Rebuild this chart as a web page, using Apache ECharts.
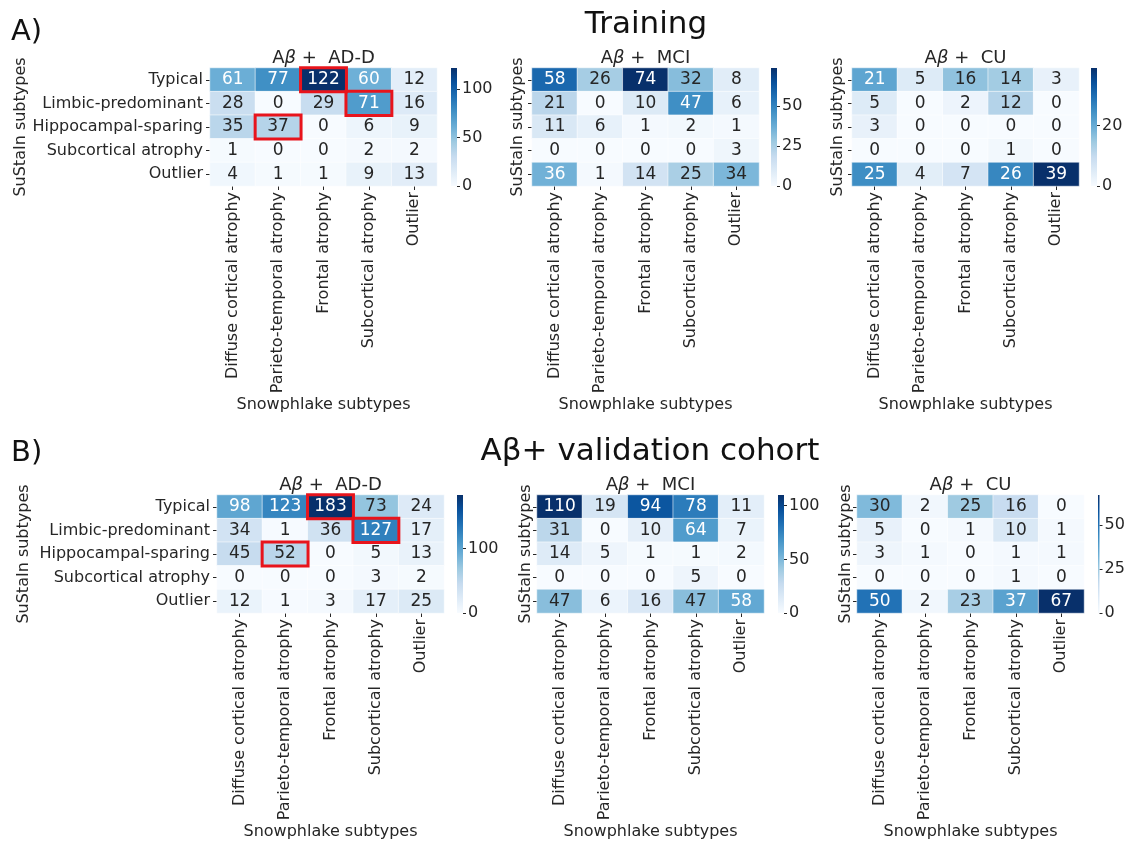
<!DOCTYPE html>
<html><head><meta charset="utf-8">
<script src="https://cdn.jsdelivr.net/npm/echarts@6/dist/echarts.min.js"></script>
<style>html,body{margin:0;padding:0;background:#fff}#c{width:1127px;height:842px}</style>
</head><body><div id="c"></div><script>
// ---------- data ----------
const rowLabels = ['Typical', 'Limbic-predominant', 'Hippocampal-sparing', 'Subcortical atrophy', 'Outlier'];
const colLabels = ['Diffuse cortical atrophy', 'Parieto-temporal atrophy', 'Frontal atrophy', 'Subcortical atrophy', 'Outlier'];

const trainADD = [[61, 77, 122, 60, 12], [28, 0, 29, 71, 16], [35, 37, 0, 6, 9], [1, 0, 0, 2, 2], [4, 1, 1, 9, 13]];
const trainMCI = [[58, 26, 74, 32, 8], [21, 0, 10, 47, 6], [11, 6, 1, 2, 1], [0, 0, 0, 0, 3], [36, 1, 14, 25, 34]];
const trainCU  = [[21, 5, 16, 14, 3], [5, 0, 2, 12, 0], [3, 0, 0, 0, 0], [0, 0, 0, 1, 0], [25, 4, 7, 26, 39]];
const valADD   = [[98, 123, 183, 73, 24], [34, 1, 36, 127, 17], [45, 52, 0, 5, 13], [0, 0, 0, 3, 2], [12, 1, 3, 17, 25]];
const valMCI   = [[110, 19, 94, 78, 11], [31, 0, 10, 64, 7], [14, 5, 1, 1, 2], [0, 0, 0, 5, 0], [47, 6, 16, 47, 58]];
const valCU    = [[30, 2, 25, 16, 0], [5, 0, 1, 10, 1], [3, 1, 0, 1, 1], [0, 0, 0, 1, 0], [50, 2, 23, 37, 67]];

const ticksTrainADD = [0, 50, 100];
const ticksTrainMCI = [0, 25, 50];
const ticksTrainCU  = [0, 20];
const ticksValADD   = [0, 100];
const ticksValMCI   = [0, 50, 100];
const ticksValCU    = [0, 25, 50];

// highlighted cells in AD-D panels: [row, col]
const highlightADD = [[0, 2], [1, 3], [2, 1]];

const subtitleCohorts = ['AD-D', 'MCI', 'CU'];
const sectionLabels = ['A)', 'B)'];
const sectionTitles = ['Training', 'A\u03b2+ validation cohort'];
const yName = 'SuStaIn subtypes';
const xName = 'Snowphlake subtypes';

// ---------- styling / layout ----------
const FONT = 'DejaVu Sans';
const TXT = '#262626';
const FS = 16;
const blues = ['#f7fbff', '#deebf7', '#c6dbef', '#9ecae1', '#6baed6', '#4292c6', '#2171b5', '#08519c', '#08306b'];

function hex2rgb(h) { return [1, 3, 5].map(i => parseInt(h.substr(i, 2), 16) / 255); }
function bluesAt(t) {
  t = Math.max(0, Math.min(1, t));
  const p = t * (blues.length - 1), i = Math.min(Math.floor(p), blues.length - 2), f = p - i;
  const a = hex2rgb(blues[i]), b = hex2rgb(blues[i + 1]);
  return a.map((v, k) => v + (b[k] - v) * f);
}
function lum(rgb) {
  const l = rgb.map(c => c <= 0.03928 ? c / 12.92 : Math.pow((c + 0.055) / 1.055, 2.4));
  return 0.2126 * l[0] + 0.7152 * l[1] + 0.0722 * l[2];
}

const W = 227, H = 118;
const panels = [
  { m: trainADD, ticks: ticksTrainADD, co: 0, gx: 210, gy: 68, cbx: 451, left: true, hl: true, yGap: 178 },
  { m: trainMCI, ticks: ticksTrainMCI, co: 1, gx: 532, gy: 68, cbx: 771, left: false, hl: false, yGap: 6 },
  { m: trainCU,  ticks: ticksTrainCU,  co: 2, gx: 852, gy: 68, cbx: 1091, left: false, hl: false, yGap: 6 },
  { m: valADD,   ticks: ticksValADD,   co: 0, gx: 217, gy: 495, cbx: 457, left: true, hl: true, yGap: 185 },
  { m: valMCI,   ticks: ticksValMCI,   co: 1, gx: 537, gy: 495, cbx: 778, left: false, hl: false, yGap: 3 },
  { m: valCU,    ticks: ticksValCU,    co: 2, gx: 857, gy: 495, cbx: 1098, left: false, hl: false, yGap: 3 }
];

const grid = [], xAxis = [], yAxis = [], series = [], visualMap = [], graphic = [];

panels.forEach((p, i) => {
  const max = Math.max(...p.m.flat());
  const data = [];
  p.m.forEach((row, r) => row.forEach((v, c) => data.push([c, r, v])));

  // heatmap grid
  grid.push({ left: p.gx, top: p.gy, width: W, height: H });
  const gi = grid.length - 1;
  xAxis.push({
    type: 'category', gridIndex: gi, data: colLabels, position: 'bottom',
    axisLine: { show: false },
    axisTick: { show: true, alignWithLabel: true, length: 4, lineStyle: { color: TXT, width: 1 } },
    axisLabel: { rotate: 90, fontSize: FS, fontFamily: FONT, color: TXT, margin: 6, interval: 0 },
    splitLine: { show: false },
    name: xName, nameLocation: 'middle', nameGap: 210,
    nameTextStyle: { fontSize: FS, fontFamily: FONT, color: TXT }
  });
  yAxis.push({
    type: 'category', gridIndex: gi, data: rowLabels, inverse: true,
    axisLine: { show: false },
    axisTick: { show: true, alignWithLabel: true, length: 4, lineStyle: { color: TXT, width: 1 } },
    axisLabel: { show: p.left, fontSize: FS, fontFamily: FONT, color: TXT, margin: 7, interval: 0 },
    splitLine: { show: false },
    name: yName, nameLocation: 'middle', nameRotate: 90, nameGap: p.yGap,
    nameTextStyle: { fontSize: FS, fontFamily: FONT, color: TXT }
  });
  const sIdx = series.length;
  series.push({
    type: 'heatmap', xAxisIndex: gi, yAxisIndex: gi, data: data,
    itemStyle: { borderColor: 'rgba(255,255,255,0.55)', borderWidth: 1 },
    emphasis: { disabled: true },
    label: {
      show: true,
      formatter: (pp) => {
        const v = pp.value[2];
        return (lum(bluesAt(v / max)) > 0.408 ? '{d|' : '{w|') + v + '}';
      },
      rich: {
        d: { color: TXT, fontSize: 17, fontFamily: FONT },
        w: { color: '#ffffff', fontSize: 17, fontFamily: FONT }
      }
    }
  });
  visualMap.push({
    type: 'continuous', show: false, min: 0, max: max, seriesIndex: sIdx,
    inRange: { color: blues }
  });
  if (p.hl) {
    series.push({
      type: 'heatmap', xAxisIndex: gi, yAxisIndex: gi, z: 5,
      data: highlightADD.map(([r, c]) => [c, r, p.m[r][c]]),
      itemStyle: { color: 'rgba(0,0,0,0)', borderColor: '#e8141c', borderWidth: 3 },
      label: { show: false }, emphasis: { disabled: true }, silent: true
    });
  }

  // colorbar grid
  grid.push({ left: p.cbx, top: p.gy, width: 6, height: H });
  const ci = grid.length - 1;
  xAxis.push({ type: 'category', gridIndex: ci, data: [''], show: false, boundaryGap: true });
  yAxis.push({
    type: 'value', gridIndex: ci, min: 0, max: max, position: 'right',
    axisLine: { show: false },
    axisTick: { show: true, length: 3, customValues: p.ticks, lineStyle: { color: TXT } },
    axisLabel: { show: true, customValues: p.ticks, fontSize: FS, fontFamily: FONT, color: TXT, margin: 5 },
    splitLine: { show: false }
  });
  series.push({
    type: 'bar', xAxisIndex: ci, yAxisIndex: ci, data: [max], barWidth: '100%', silent: true,
    itemStyle: {
      color: new echarts.graphic.LinearGradient(0, 1, 0, 0,
        blues.map((c, k) => ({ offset: k / (blues.length - 1), color: c })))
    }
  });

  // subtitle
  graphic.push({
    type: 'text', x: p.gx + W / 2, y: p.gy - 10,
    style: {
      text: 'A{i|\u03b2} +  ' + subtitleCohorts[p.co],
      align: 'center', verticalAlign: 'middle',
      fontSize: 18, fontFamily: FONT, fill: TXT,
      rich: { i: { fontStyle: 'italic', fontSize: 18, fontFamily: FONT, fill: TXT } }
    }
  });
});

// section labels and titles
[[32, 0], [453, 1]].forEach(([y, k]) => {
  graphic.push({ type: 'text', x: 11, y: y, style: { text: sectionLabels[k], align: 'left', verticalAlign: 'middle', fontSize: 29, fontFamily: FONT, fill: '#111' } });
});
graphic.push({ type: 'text', x: 646, y: 25, style: { text: sectionTitles[0], align: 'center', verticalAlign: 'middle', fontSize: 31, fontFamily: FONT, fill: '#111' } });
graphic.push({ type: 'text', x: 650, y: 452, style: { text: sectionTitles[1], align: 'center', verticalAlign: 'middle', fontSize: 31, fontFamily: FONT, fill: '#111' } });

const chart = echarts.init(document.getElementById('c'), null, { renderer: 'canvas' });
chart.setOption({
  animation: false,
  backgroundColor: '#ffffff',
  grid, xAxis, yAxis, series, visualMap, graphic
});
</script></body></html>
